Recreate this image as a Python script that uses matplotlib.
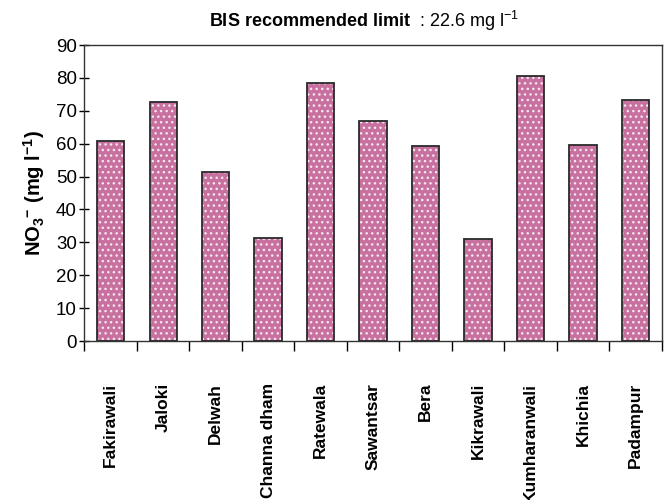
import matplotlib
matplotlib.use("Agg")
import matplotlib.pyplot as plt
import numpy as np

plt.rcParams['font.family'] = ['Liberation Sans', 'DejaVu Sans']
plt.rcParams['mathtext.fontset'] = 'custom'
plt.rcParams['mathtext.rm'] = 'Liberation Sans'
plt.rcParams['mathtext.it'] = 'Liberation Sans:italic'
plt.rcParams['mathtext.bf'] = 'Liberation Sans:bold'
plt.rcParams['hatch.linewidth'] = 1.0

sites = ["Fakirawali", "Jaloki", "Delwah", "Channa dham", "Ratewala", "Sawantsar",
         "Bera", "Kikrawali", "Kumharanwali", "Khichia", "Padampur"]
nitrate = [60.8, 72.7, 51.3, 31.4, 78.4, 66.8, 59.3, 31.0, 80.6, 59.6, 73.4]
yticks = [0, 10, 20, 30, 40, 50, 60, 70, 80, 90]

fig = plt.figure(figsize=(6.65, 5.0), dpi=100)
ax = fig.add_axes([0.127, 0.318, 0.868, 0.592])

x = np.arange(len(sites))
ax.bar(x, nitrate, width=0.52, color='#c8709f', edgecolor='#f6e6ee', hatch='...', linewidth=0)
ax.bar(x, nitrate, width=0.52, fill=False, edgecolor='#2a2a2a', linewidth=1.3)

ax.set_xlim(-0.5, len(sites) - 0.5)
ax.set_ylim(0, 90)
ax.set_yticks(yticks)
ax.set_yticklabels([str(v) for v in yticks], fontsize=13.5)
ax.tick_params(axis='y', direction='inout', length=7, width=1, pad=2)

ax.set_xticks(x)
ax.set_xticklabels(sites, rotation=90, fontsize=12.5, fontweight='bold')
ax.tick_params(axis='x', length=0, pad=30)
ax.set_xticks(np.arange(len(sites) + 1) - 0.5, minor=True)
ax.tick_params(axis='x', which='minor', direction='out', length=7, width=1)

for s in ax.spines.values():
    s.set_linewidth(1.0)
    s.set_color('#333333')

ax.set_ylabel(r'$\mathbf{NO_3}^{\mathbf{-}}$ $\mathbf{(mg\ l^{-1})}$', fontsize=14.5, labelpad=6)
ax.set_title(r'$\mathbf{BIS\ recommended\ limit}$  : 22.6 mg l$^{-1}$', fontsize=13, pad=13, x=0.485)

fig.savefig('out.png', dpi=100)
